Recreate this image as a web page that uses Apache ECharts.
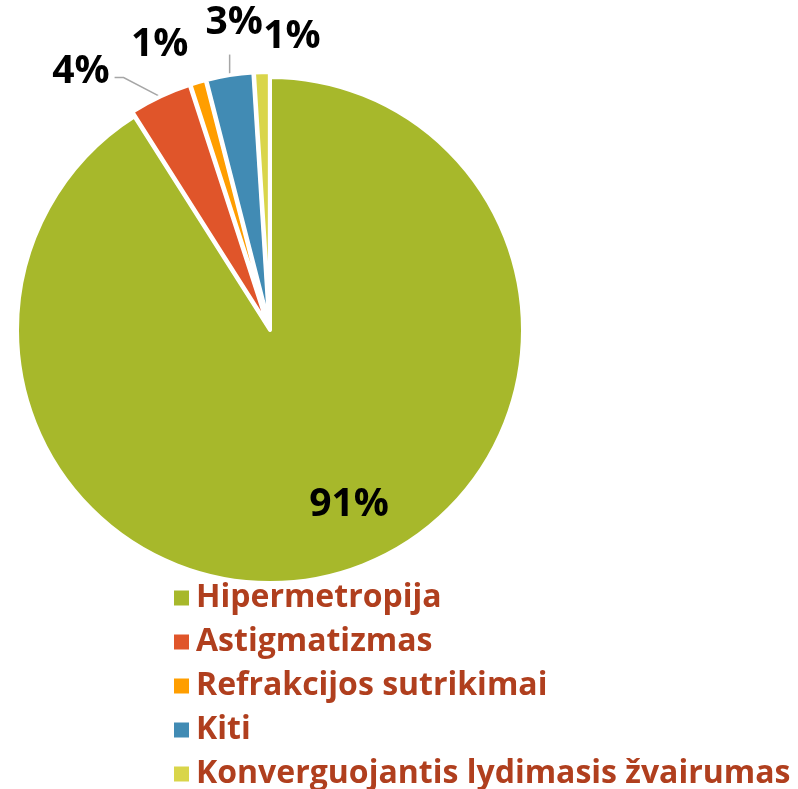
<!DOCTYPE html>
<html>
<head>
<meta charset="utf-8">
<script src="https://cdn.jsdelivr.net/npm/echarts@6/dist/echarts.min.js"></script>
<style>
  html, body { margin: 0; padding: 0; background: #fff; }
  #chart { width: 798px; height: 789px; }
</style>
</head>
<body>
<div id="chart"></div>
<script>
// ── Data ──────────────────────────────────────────────────────────────────────
const categories = [
  'Hipermetropija',
  'Astigmatizmas',
  'Refrakcijos sutrikimai',
  'Kiti',
  'Konverguojantis lydimasis žvairumas',
];
const shares = [91, 4, 1, 3, 1];
const colors = ['#A7B82B', '#E0552A', '#FF9E00', '#418BB4', '#D9D54A'];

// where each percentage sits in the picture (label centres)
const labelSpots = [[349, 505], [83, 76], [161, 50], [235, 28], [292, 42]];
// leader style per slice: none, elbow to the label's right side, or straight up
const leaderKind = ['none', 'elbow', 'none', 'up', 'none'];

const chart = echarts.init(document.getElementById('chart'), null, { renderer: 'canvas' });

const data = categories.map((name, i) => ({
  name,
  value: shares[i],
  selected: i > 0,
  itemStyle: { color: colors[i] },
  labelLine: { show: leaderKind[i] !== 'none' },
}));

chart.setOption({
  animation: false,
  backgroundColor: '#fff',
  legend: {
    orient: 'vertical',
    left: 167,
    top: 574,
    height: 320,
    itemWidth: 17,
    itemHeight: 17,
    itemGap: 6,
    icon: 'rect',
    selectedMode: false,
    textStyle: {
      color: '#B03F1E',
      fontFamily: 'Open Sans',
      fontWeight: 'bold',
      fontSize: 32,
      lineHeight: 38,
      padding: [0, 0, 0, 1],
    },
    data: categories,
  },
  series: [{
    type: 'pie',
    center: [270, 330],
    radius: 253,
    startAngle: 90,
    clockwise: true,
    selectedMode: 'multiple',
    selectedOffset: 5,
    avoidLabelOverlap: false,
    itemStyle: { borderColor: '#fff', borderWidth: 4 },
    emphasis: { disabled: true },
    label: {
      show: true,
      position: 'outside',
      formatter: '{c}%',
      overflow: 'none',
      color: '#000',
      fontFamily: 'Open Sans',
      fontWeight: 'bold',
      fontSize: 39,
    },
    labelLine: {
      length: 12,
      length2: 10,
      lineStyle: { color: '#A6A6A6', width: 1.5 },
    },
    labelLayout: params => {
      const i = params.dataIndex;
      const p = labelSpots[i];
      const r = params.labelRect;
      const out = {
        dx: p[0] - (r.x + r.width / 2),
        dy: p[1] - (r.y + r.height / 2),
      };
      const pts = params.labelLinePoints;
      if (pts && leaderKind[i] === 'elbow') {
        const right = p[0] + r.width / 2;
        const y = p[1] + 6;
        out.labelLinePoints = [pts[0], [right + 14, y], [right + 5, y]];
      } else if (pts && leaderKind[i] === 'up') {
        const y = p[1] + r.height / 2 + 12;
        out.labelLinePoints = [pts[0], [pts[0][0], y], [pts[0][0], y]];
      }
      return out;
    },
    data,
  }],
});
</script>
</body>
</html>
